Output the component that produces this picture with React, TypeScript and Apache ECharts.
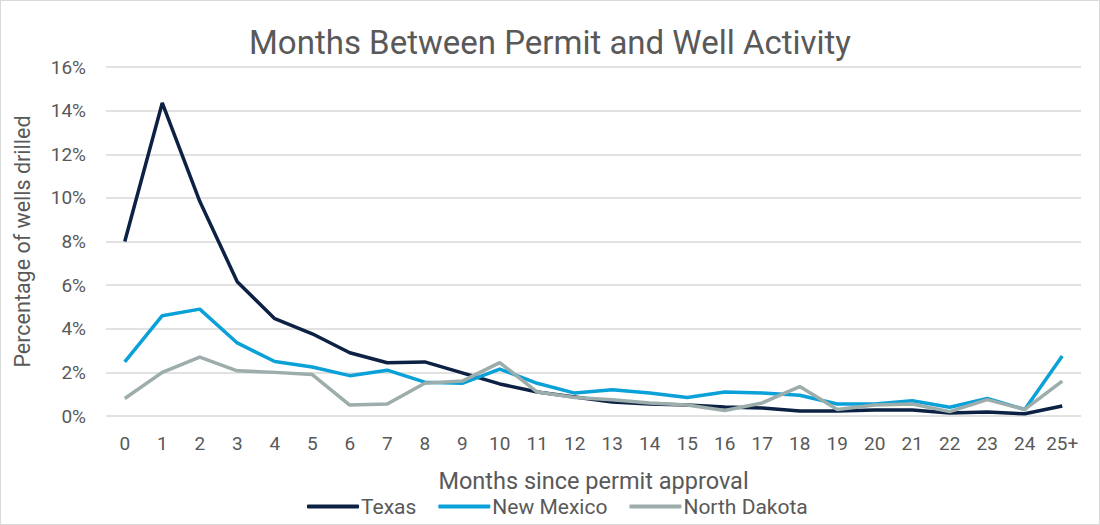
import React, { useEffect, useRef } from "react";
import * as echarts from "echarts";

const months = ["0","1","2","3","4","5","6","7","8","9","10","11","12","13","14","15","16","17","18","19","20","21","22","23","24","25+"];
const texas = [8.0,14.35,9.84,6.16,4.46,3.77,2.9,2.44,2.48,1.98,1.47,1.1,0.87,0.64,0.55,0.5,0.41,0.37,0.23,0.23,0.28,0.28,0.14,0.18,0.1,0.46];
const newMexico = [2.48,4.6,4.9,3.35,2.5,2.25,1.85,2.1,1.55,1.5,2.15,1.5,1.05,1.2,1.05,0.85,1.1,1.05,0.95,0.55,0.55,0.7,0.4,0.8,0.3,2.75];
const northDakota = [0.8,2.0,2.7,2.07,2.0,1.9,0.5,0.55,1.5,1.6,2.45,1.1,0.85,0.75,0.6,0.5,0.25,0.6,1.35,0.3,0.5,0.55,0.2,0.75,0.3,1.6];

const BODY = "'Roboto', 'Noto Sans', sans-serif";
const GREY = "#595959";

export default function App() {
  const ref = useRef<HTMLDivElement>(null);
  useEffect(() => {
    if (!ref.current) return;
    const chart = echarts.init(ref.current, null, { renderer: "svg" });
    const mk = (name: string, data: number[], color: string) => ({
      name,
      type: "line",
      data,
      symbol: "none",
      lineStyle: { width: 3.5, color },
      itemStyle: { color },
    });
    chart.setOption({
      animation: false,
      backgroundColor: "#ffffff",
      title: {
        text: "Months Between Permit and Well Activity",
        left: "center",
        top: 20,
        textStyle: { fontFamily: BODY, fontSize: 33, fontWeight: "normal", color: GREY },
      },
      grid: { left: 105, right: 18, top: 66, bottom: 108, outerBoundsMode: "none", containLabel: false },
      legend: {
        bottom: 2,
        left: 301,
        itemWidth: 52,
        itemHeight: 4,
        itemGap: 22,
        icon: "roundRect",
        textStyle: { fontFamily: BODY, fontSize: 21, color: GREY, padding: [0, 0, 0, -3] },
        data: ["Texas", "New Mexico", "North Dakota"],
      },
      xAxis: {
        type: "category",
        data: months,
        boundaryGap: true,
        name: "Months since permit approval",
        nameLocation: "middle",
        nameGap: 53,
        nameTextStyle: { fontFamily: BODY, fontSize: 23.5, color: GREY },
        axisLine: { show: false },
        axisTick: { show: false },
        axisLabel: { fontFamily: BODY, fontSize: 19, color: GREY, margin: 18, interval: 0 },
      },
      yAxis: {
        type: "value",
        min: 0,
        max: 16,
        interval: 2,
        name: "Percentage of wells drilled",
        nameLocation: "middle",
        nameGap: 73,
        nameTextStyle: { fontFamily: BODY, fontSize: 21.5, color: GREY },
        axisLabel: { fontFamily: BODY, fontSize: 19, color: GREY, margin: 20, formatter: "{value}%" },
        splitLine: { lineStyle: { color: "#d9d9d9", width: 1.5 } },
      },
      series: [
        mk("Texas", texas, "#0c2143"),
        mk("New Mexico", newMexico, "#0aa0d8"),
        mk("North Dakota", northDakota, "#9cadab"),
      ],
    });
    return () => chart.dispose();
  }, []);
  return (
    <div
      ref={ref}
      style={{
        position: "fixed",
        left: 0,
        top: 0,
        width: 1100,
        height: 525,
        boxSizing: "border-box",
        border: "1px solid #d9d9d9",
        background: "#fff",
      }}
    />
  );
}
